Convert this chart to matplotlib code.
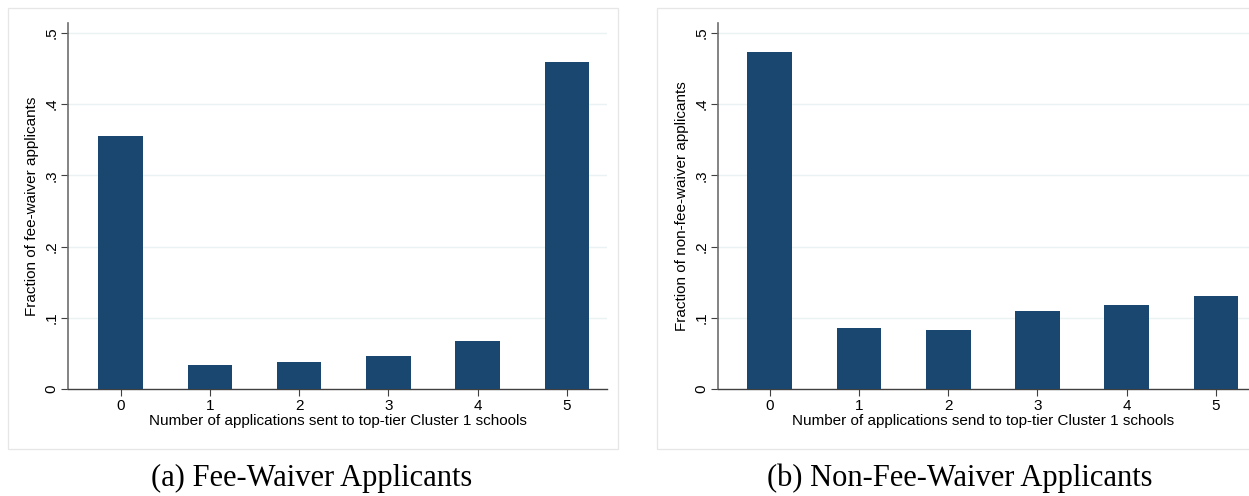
import matplotlib
matplotlib.use("Agg")
import matplotlib.pyplot as plt
from matplotlib.patches import Rectangle

# Data
counts = [0, 1, 2, 3, 4, 5]
fee_waiver = [0.355, 0.034, 0.038, 0.046, 0.068, 0.459]
non_fee_waiver = [0.473, 0.086, 0.083, 0.110, 0.118, 0.130]
y_ticks = [0, 0.1, 0.2, 0.3, 0.4, 0.5]
y_tick_labels = ["0", ".1", ".2", ".3", ".4", ".5"]
x_labels = ["Number of applications sent to top-tier Cluster 1 schools",
            "Number of applications send to top-tier Cluster 1 schools"]
y_labels = ["Fraction of fee-waiver applicants",
            "Fraction of non-fee-waiver applicants"]
captions = ["(a) Fee-Waiver Applicants", "(b) Non-Fee-Waiver Applicants"]

BAR = "#1a476f"
GRID = "#eaf2f3"
AXIS = "#404040"

plt.rcParams["font.family"] = ["Liberation Sans", "DejaVu Sans"]

fig = plt.figure(figsize=(12.49, 4.96), dpi=100)

# panel frames
for (x0, w) in [(8 / 1249, 610 / 1249), (657 / 1249, 600 / 1249)]:
    fig.patches.append(Rectangle((x0, 1 - 449 / 496), w, 441 / 496,
                                 transform=fig.transFigure, fill=False,
                                 edgecolor="#e6e6e6", lw=0.9))

positions = [[68 / 1249, 1 - 389 / 496, 539 / 1249, 366 / 496],
             [718 / 1249, 1 - 389 / 496, 531 / 1249, 366 / 496]]
xlims = [(-0.59, 5.45), (-0.58, 5.37)]
series = [fee_waiver, non_fee_waiver]

for i in range(2):
    ax = fig.add_axes(positions[i])
    ax.bar(counts, series[i], width=0.5, color=BAR, zorder=3)
    ax.set_xlim(*xlims[i])
    ax.set_ylim(0, 0.514)
    ax.set_yticks(y_ticks)
    ax.set_yticklabels(y_tick_labels)
    ax.set_xticks(counts)
    ax.set_xticklabels([str(c) for c in counts])
    for y in y_ticks[1:]:
        ax.axhline(y, color=GRID, lw=1.0, zorder=1)
    for s in ["top", "right"]:
        ax.spines[s].set_visible(False)
    ax.spines["left"].set_color("#6e6e6e")
    ax.spines["left"].set_linewidth(1.2)
    ax.spines["bottom"].set_color(AXIS)
    ax.spines["bottom"].set_linewidth(1.0)
    ax.tick_params(axis="both", length=5, width=0.8, color=AXIS,
                   labelsize=11, pad=2)
    ax.tick_params(axis="y", labelrotation=90)
    for lab in ax.get_yticklabels():
        lab.set_va("center")
    ax.set_xlabel(x_labels[i], fontsize=11, labelpad=1)
    ax.set_ylabel(y_labels[i], fontsize=11, labelpad=4)

fig.text(312 / 1249, 1 - 478 / 496, captions[0], ha="center", va="center",
         fontsize=22, family=["Liberation Serif", "DejaVu Serif"])
fig.text(960 / 1249, 1 - 478 / 496, captions[1], ha="center", va="center",
         fontsize=22, family=["Liberation Serif", "DejaVu Serif"])

fig.savefig("out.png", dpi=100, facecolor="white")
